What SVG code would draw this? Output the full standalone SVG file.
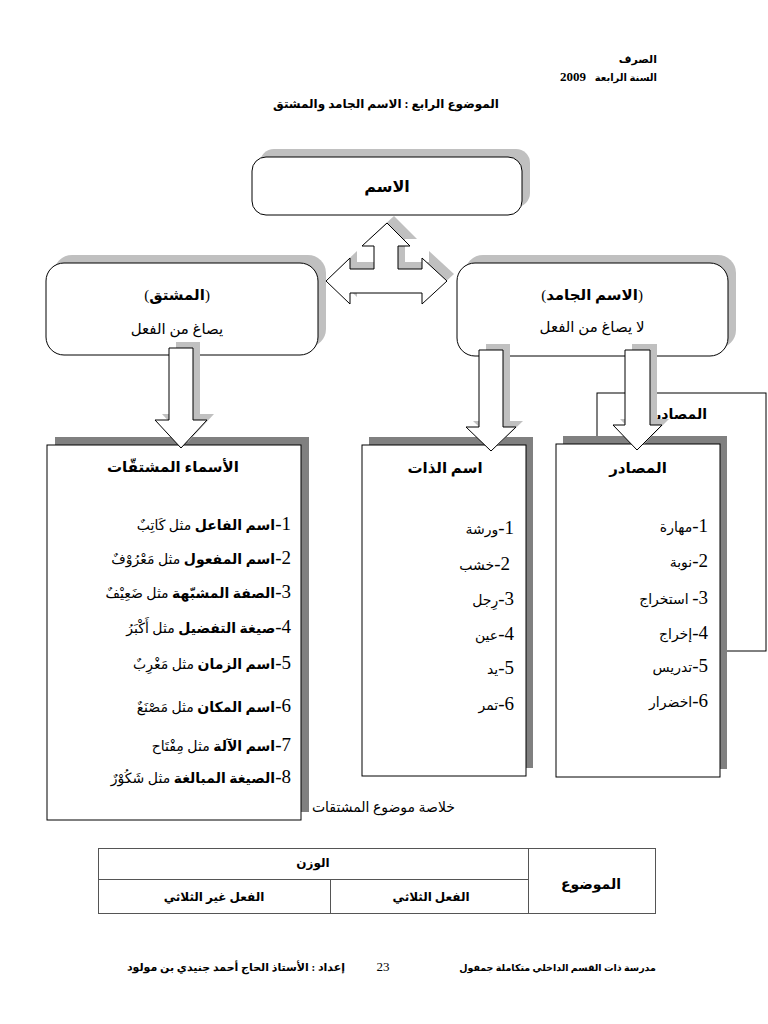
<svg xmlns="http://www.w3.org/2000/svg" width="768" height="1024" viewBox="0 0 768 1024">
<style>
.t{font-family:"Liberation Serif","DejaVu Sans",serif;fill:#000;direction:rtl;unicode-bidi:embed}
.b{font-weight:bold}
.box{fill:#fff;stroke:#000;stroke-width:1}
.sh{fill:#c0c0c0}
.shd{fill:#808080}
.arr{fill:#fff;stroke:#000;stroke-width:1;stroke-linejoin:miter}
.num{font-size:19px}
.ar{font-size:14px}
.tl{stroke:#555;stroke-width:1;fill:none}
</style>
<rect width="768" height="1024" fill="#fff"/>
<g id="header">
<text class="t b" x="657" y="63" font-size="11" text-anchor="start">الصرف</text>
<text class="t b" x="657" y="81" font-size="10" text-anchor="start">السنة الرابعة</text>
<text class="t b" x="573" y="81" font-size="13" text-anchor="middle">2009</text>
<text class="t b" x="386" y="108" font-size="12" text-anchor="middle">الموضوع الرابع : الاسم الجامد والمشتق</text>
</g>
<g id="bracket">
<rect class="box" x="597" y="393" width="169" height="258"/>
<text class="t b" x="707" y="419" font-size="14" text-anchor="start">المصادر</text>
</g>
<g id="node-mushtaqat">
<rect class="shd" x="55" y="437" width="254" height="375"/>
<rect class="box" x="47" y="445" width="254" height="375"/>
<text class="t b" x="173" y="472" font-size="15" text-anchor="middle">الأسماء المشتقّات</text>
<text class="t" x="291" y="530" text-anchor="start"><tspan class="num">1-</tspan><tspan class="ar b">اسم الفاعل</tspan><tspan class="ar"> مثل كَاتِبٌ</tspan></text>
<text class="t" x="291" y="564" text-anchor="start"><tspan class="num">2-</tspan><tspan class="ar b">اسم المفعول</tspan><tspan class="ar"> مثل مَعْرُوْفٌ</tspan></text>
<text class="t" x="291" y="598" text-anchor="start"><tspan class="num">3-</tspan><tspan class="ar b">الصفة المشبّهة</tspan><tspan class="ar"> مثل ضَعِيْفٌ</tspan></text>
<text class="t" x="291" y="633" text-anchor="start"><tspan class="num">4-</tspan><tspan class="ar b">صيغة التفضيل</tspan><tspan class="ar"> مثل أَكْبَرُ</tspan></text>
<text class="t" x="291" y="669" text-anchor="start"><tspan class="num">5-</tspan><tspan class="ar b">اسم الزمان</tspan><tspan class="ar"> مثل مَغْرِبٌ</tspan></text>
<text class="t" x="291" y="712" text-anchor="start"><tspan class="num">6-</tspan><tspan class="ar b">اسم المكان</tspan><tspan class="ar"> مثل مَصْنَعٌ</tspan></text>
<text class="t" x="291" y="751" text-anchor="start"><tspan class="num">7-</tspan><tspan class="ar b">اسم الآلة</tspan><tspan class="ar"> مثل مِفْتَاح</tspan></text>
<text class="t" x="291" y="783" text-anchor="start"><tspan class="num">8-</tspan><tspan class="ar b">الصيغة المبالغة</tspan><tspan class="ar"> مثل شَكُوْرٌ</tspan></text>
</g>
<g id="node-dhat">
<rect class="shd" x="369" y="437" width="164" height="331"/>
<rect class="box" x="362" y="445" width="164" height="331"/>
<text class="t b" x="445" y="473" font-size="15" text-anchor="middle">اسم الذات</text>
<text class="t" x="514" y="534" text-anchor="start"><tspan class="num">1-</tspan><tspan class="ar">ورشة</tspan></text>
<text class="t" x="510" y="570" text-anchor="start"><tspan class="num">2-</tspan><tspan class="ar">خشب</tspan></text>
<text class="t" x="514" y="605" text-anchor="start"><tspan class="num">3-</tspan><tspan class="ar">رِجل</tspan></text>
<text class="t" x="514" y="640" text-anchor="start"><tspan class="num">4-</tspan><tspan class="ar">عين</tspan></text>
<text class="t" x="514" y="674" text-anchor="start"><tspan class="num">5-</tspan><tspan class="ar">يد</tspan></text>
<text class="t" x="514" y="710" text-anchor="start"><tspan class="num">6-</tspan><tspan class="ar">تمر</tspan></text>
</g>
<g id="node-masadir">
<rect class="shd" x="563" y="436" width="164" height="333"/>
<rect class="box" x="556" y="444" width="164" height="333"/>
<text class="t b" x="638" y="473" font-size="15" text-anchor="middle">المصادر</text>
<text class="t" x="708" y="532" text-anchor="start"><tspan class="num">1-</tspan><tspan class="ar">مهارة</tspan></text>
<text class="t" x="708" y="567" text-anchor="start"><tspan class="num">2-</tspan><tspan class="ar">نوبة</tspan></text>
<text class="t" x="708" y="604" text-anchor="start"><tspan class="num">3-</tspan><tspan class="ar"> استخراج</tspan></text>
<text class="t" x="708" y="639" text-anchor="start"><tspan class="num">4-</tspan><tspan class="ar">إخراج</tspan></text>
<text class="t" x="708" y="672" text-anchor="start"><tspan class="num">5-</tspan><tspan class="ar">تدريس</tspan></text>
<text class="t" x="708" y="707" text-anchor="start"><tspan class="num">6-</tspan><tspan class="ar">اخضرار</tspan></text>
</g>
<g id="node-ism">
<rect class="sh" x="260" y="149" width="270" height="58" rx="14"/>
<rect class="box" x="252" y="157" width="270" height="58" rx="14"/>
<text class="t b" x="387" y="192" font-size="16" text-anchor="middle">الاسم</text>
</g>
<g id="node-mushtaq">
<rect class="sh" x="54" y="255" width="272" height="92" rx="18"/>
<rect class="box" x="46" y="263" width="272" height="92" rx="18"/>
<text class="t" x="177" y="300" font-size="15" text-anchor="middle"><tspan>(</tspan><tspan class="b">المشتق</tspan><tspan>)</tspan></text>
<text class="t" x="177" y="334" font-size="15" text-anchor="middle">يصاغ من الفعل</text>
</g>
<g id="node-jamid">
<rect class="sh" x="465" y="255" width="271" height="93" rx="18"/>
<rect class="box" x="457" y="263" width="271" height="93" rx="18"/>
<text class="t" x="592" y="300" font-size="15" text-anchor="middle"><tspan>(</tspan><tspan class="b">الاسم الجامد</tspan><tspan>)</tspan></text>
<text class="t" x="592" y="332" font-size="15" text-anchor="middle">لا يصاغ من الفعل</text>
</g>
<g id="connectors">
<polygon class="sh" transform="translate(7,-7)" points="387,223 410,246 398,246 398,269 422,269 422,258 447,281 422,304 422,293 350,293 350,304 326,281 350,258 350,269 374,269 374,246 362,246"/>
<polygon class="arr" points="387,223 410,246 398,246 398,269 422,269 422,258 447,281 422,304 422,293 350,293 350,304 326,281 350,258 350,269 374,269 374,246 362,246"/>
<polygon class="sh" transform="translate(7,-6)" points="169,348 193,348 193,420 207,420 181,448 155,420 169,420"/>
<polygon class="arr" points="169,348 193,348 193,420 207,420 181,448 155,420 169,420"/>
<polygon class="sh" transform="translate(7,-6)" points="479,350 503,350 503,427 516,427 491,451 466,427 479,427"/>
<polygon class="arr" points="479,350 503,350 503,427 516,427 491,451 466,427 479,427"/>
<polygon class="sh" transform="translate(7,-6)" points="625,350 650,350 650,425 662,425 637,450 613,425 625,425"/>
<polygon class="arr" points="625,350 650,350 650,425 662,425 637,450 613,425 625,425"/>
</g>
<g id="summary">
<text class="t" x="455" y="812" font-size="14" text-anchor="start">خلاصة موضوع المشتقات</text>
</g>
<g id="table">
<rect class="tl" x="98.5" y="848.5" width="557" height="65"/>
<line class="tl" x1="528.5" y1="848" x2="528.5" y2="914"/>
<line class="tl" x1="98" y1="879.5" x2="528" y2="879.5"/>
<line class="tl" x1="330.5" y1="879" x2="330.5" y2="914"/>
<text class="t b" x="313" y="867" font-size="12" text-anchor="middle">الوزن</text>
<text class="t b" x="591" y="889" font-size="14" text-anchor="middle">الموضوع</text>
<text class="t b" x="431" y="901" font-size="12" text-anchor="middle">الفعل الثلاثي</text>
<text class="t b" x="214" y="901" font-size="12" text-anchor="middle">الفعل غير الثلاثي</text>
</g>
<g id="footer">
<text class="t b" x="656" y="971" font-size="9.5" text-anchor="start">مدرسة ذات القسم الداخلي متكاملة جمفول</text>
<text class="t" x="383" y="971" font-size="13" text-anchor="middle">23</text>
<text class="t b" x="345" y="971" font-size="11" text-anchor="start">إعداد : الأستاذ الحاج أحمد جنيدي بن مولود</text>
</g>
</svg>
